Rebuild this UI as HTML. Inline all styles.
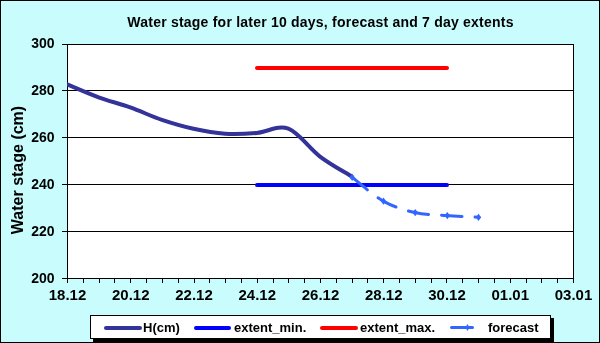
<!DOCTYPE html>
<html><head><meta charset="utf-8"><style>html,body{margin:0;padding:0;width:600px;height:343px;overflow:hidden;background:#CCFFFF}svg{display:block;will-change:transform}</style></head>
<body><svg width="600" height="343" viewBox="0 0 600 343">
<defs><pattern id="dith" width="4" height="4" patternUnits="userSpaceOnUse">
<rect width="4" height="4" fill="#CCFFFF"/><rect x="1" y="0" width="1" height="1" fill="#BDF2F2"/><rect x="3" y="2" width="1" height="1" fill="#BDF2F2"/><rect x="0" y="3" width="1" height="1" fill="#C2F5F5"/><rect x="2" y="1" width="1" height="1" fill="#C2F5F5"/></pattern>
<clipPath id="pc"><rect x="67" y="44" width="507" height="235"/></clipPath></defs>
<rect x="0" y="0" width="600" height="343" fill="#000"/>
<rect x="1" y="1" width="598" height="341" fill="#C9FDFD"/>
<rect x="67" y="44" width="507" height="235" fill="#fff"/>
<path d="M67,90.5H574 M67,137.5H574 M67,184.5H574 M67,231.5H574 M62,44.5H67 M62,90.5H67 M62,137.5H67 M62,184.5H67 M62,231.5H67 M62,278.5H67 M67.5,279V283 M83.5,279V283 M99.5,279V283 M114.5,279V283 M130.5,279V283 M146.5,279V283 M162.5,279V283 M178.5,279V283 M194.5,279V283 M209.5,279V283 M225.5,279V283 M241.5,279V283 M257.5,279V283 M273.5,279V283 M288.5,279V283 M304.5,279V283 M320.5,279V283 M336.5,279V283 M352.5,279V283 M367.5,279V283 M383.5,279V283 M399.5,279V283 M415.5,279V283 M431.5,279V283 M446.5,279V283 M462.5,279V283 M478.5,279V283 M494.5,279V283 M510.5,279V283 M526.5,279V283 M541.5,279V283 M557.5,279V283 M573.5,279V283" stroke="#000" stroke-width="1" fill="none" shape-rendering="crispEdges"/>
<rect x="67.5" y="44.5" width="506" height="234" fill="none" stroke="#000" stroke-width="1" shape-rendering="crispEdges"/>
<g clip-path="url(#pc)">
<path d="M257,68 H447" stroke="#FF0000" stroke-width="4" stroke-linecap="round" fill="none"/>
<path d="M257,185 H447" stroke="#0000FF" stroke-width="4" stroke-linecap="round" fill="none"/>
<path d="M67.0,84.3 C72.3,86.5 88.1,93.5 98.6,97.3 C109.2,101.2 119.7,103.6 130.2,107.4 C140.8,111.1 151.3,116.3 161.9,119.9 C172.4,123.4 183.0,126.5 193.5,128.8 C204.0,131.1 214.6,133.0 225.1,133.7 C235.7,134.4 246.2,133.8 256.8,132.9 C267.3,132.1 277.8,124.8 288.4,128.7 C298.9,132.7 309.5,148.7 320.0,156.6 C330.5,164.6 346.4,173.1 351.6,176.4" stroke="#333399" stroke-width="4" stroke-linecap="round" stroke-linejoin="round" fill="none"/>
<path d="M351.6,176.8 C356.9,180.9 372.7,195.2 383.2,201.1 C393.8,207.0 404.3,210.1 414.9,212.5 C425.4,214.9 436.0,214.7 446.5,215.5 C457.0,216.3 472.9,216.9 478.1,217.2" stroke="#3366FF" stroke-width="3" stroke-dasharray="20.5 13" stroke-linecap="round" fill="none"/>
<path d="M352.20,173.80 L354.90,177.40 L352.20,181.00 L349.50,177.40Z" fill="#3366FF"/>
<path d="M383.50,197.60 L386.20,201.20 L383.50,204.80 L380.80,201.20Z" fill="#3366FF"/>
<path d="M415.20,209.00 L417.90,212.60 L415.20,216.20 L412.50,212.60Z" fill="#3366FF"/>
<path d="M447.30,212.00 L450.00,215.60 L447.30,219.20 L444.60,215.60Z" fill="#3366FF"/>
<path d="M478.50,213.70 L481.20,217.30 L478.50,220.90 L475.80,217.30Z" fill="#3366FF"/>
</g>
<text x="320.5" y="27" text-anchor="middle" font-family="Liberation Sans" font-weight="bold" font-size="14" letter-spacing="0.22">Water stage for later 10 days, forecast and 7 day extents</text>
<text transform="translate(54.5,48) scale(1,1.07)" text-anchor="end" font-family="Liberation Sans" font-weight="bold" font-size="14">300</text>
<text transform="translate(54.5,95) scale(1,1.07)" text-anchor="end" font-family="Liberation Sans" font-weight="bold" font-size="14">280</text>
<text transform="translate(54.5,142) scale(1,1.07)" text-anchor="end" font-family="Liberation Sans" font-weight="bold" font-size="14">260</text>
<text transform="translate(54.5,189) scale(1,1.07)" text-anchor="end" font-family="Liberation Sans" font-weight="bold" font-size="14">240</text>
<text transform="translate(54.5,236) scale(1,1.07)" text-anchor="end" font-family="Liberation Sans" font-weight="bold" font-size="14">220</text>
<text transform="translate(54.5,283) scale(1,1.07)" text-anchor="end" font-family="Liberation Sans" font-weight="bold" font-size="14">200</text>
<text transform="translate(67.50,300) scale(1,1.03)" text-anchor="middle" font-family="Liberation Sans" font-weight="bold" font-size="15">18.12</text>
<text transform="translate(130.75,300) scale(1,1.03)" text-anchor="middle" font-family="Liberation Sans" font-weight="bold" font-size="15">20.12</text>
<text transform="translate(194.00,300) scale(1,1.03)" text-anchor="middle" font-family="Liberation Sans" font-weight="bold" font-size="15">22.12</text>
<text transform="translate(257.25,300) scale(1,1.03)" text-anchor="middle" font-family="Liberation Sans" font-weight="bold" font-size="15">24.12</text>
<text transform="translate(320.50,300) scale(1,1.03)" text-anchor="middle" font-family="Liberation Sans" font-weight="bold" font-size="15">26.12</text>
<text transform="translate(383.75,300) scale(1,1.03)" text-anchor="middle" font-family="Liberation Sans" font-weight="bold" font-size="15">28.12</text>
<text transform="translate(447.00,300) scale(1,1.03)" text-anchor="middle" font-family="Liberation Sans" font-weight="bold" font-size="15">30.12</text>
<text transform="translate(510.25,300) scale(1,1.03)" text-anchor="middle" font-family="Liberation Sans" font-weight="bold" font-size="15">01.01</text>
<text transform="translate(573.50,300) scale(1,1.03)" text-anchor="middle" font-family="Liberation Sans" font-weight="bold" font-size="15">03.01</text>
<text transform="translate(23,170) rotate(-90)" text-anchor="middle" font-family="Liberation Sans" font-weight="bold" font-size="16">Water stage (cm)</text>
<rect x="93" y="318" width="461" height="25" fill="#000"/>
<rect x="90.5" y="315.5" width="460" height="23" fill="#fff" stroke="#000" stroke-width="1" shape-rendering="crispEdges"/>
<path d="M106,328 H140" stroke="#333399" stroke-width="4" stroke-linecap="round"/>
<path d="M196,328 H229" stroke="#0000FF" stroke-width="4" stroke-linecap="round"/>
<path d="M322,328 H356" stroke="#FF0000" stroke-width="4" stroke-linecap="round"/>
<path d="M451.5,327.5 H472.5" stroke="#3366FF" stroke-width="3" stroke-linecap="round"/>
<path d="M467.50,323.90 L469.50,327.50 L467.50,331.10 L465.50,327.50Z" fill="#3366FF"/>
<rect x="0" y="342" width="600" height="1" fill="#000"/>
<text x="143" y="332" font-family="Liberation Sans" font-weight="bold" font-size="13">H(cm)</text>
<text x="234" y="332" font-family="Liberation Sans" font-weight="bold" font-size="13">extent_min.</text>
<text x="360" y="332" font-family="Liberation Sans" font-weight="bold" font-size="13">extent_max.</text>
<text x="488" y="332" font-family="Liberation Sans" font-weight="bold" font-size="13">forecast</text>
</svg></body></html>
